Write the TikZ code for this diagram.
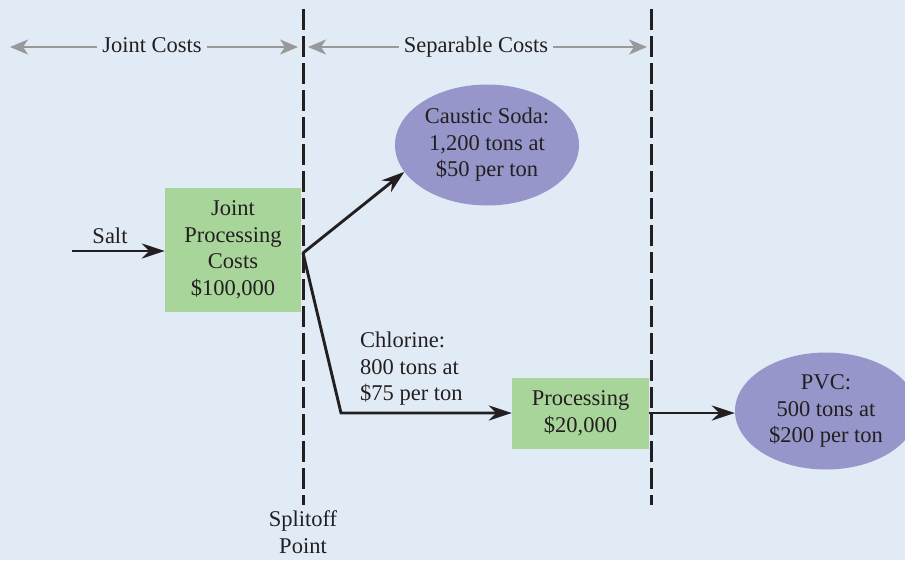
\documentclass[tikz,border=0pt]{standalone}
\usepackage{fontspec}
\setmainfont{Liberation Serif}
\usetikzlibrary{shapes.geometric,arrows.meta}
\definecolor{bg}{HTML}{E1EBF6}
\definecolor{boxgreen}{HTML}{A8D59A}
\definecolor{ellpurple}{HTML}{9696CA}
\definecolor{txt}{HTML}{231F20}
\definecolor{grayarrow}{HTML}{999999}
\begin{document}
\begin{tikzpicture}[x=1pt,y=-1pt, font=\fontsize{22.5}{26.5}\selectfont, text=txt,
  box/.style={fill=boxgreen, draw=none, inner sep=0pt, align=center},
  prod/.style={ellipse, fill=ellpurple, draw=none, inner sep=0pt, align=center},
  flow/.style={line width=2.9pt, draw=txt, -{Stealth[length=23pt,width=15pt]}},
  span/.style={line width=2.2pt, draw=grayarrow, -{Stealth[length=18pt,width=15pt,inset=5pt]}},
  divider/.style={line width=3pt, draw=txt, dash pattern=on 21pt off 6pt},
  lbl/.style={inner sep=0pt, align=center},
  hdr/.style={inner ysep=0pt, inner xsep=5pt, text height=15pt, text depth=4pt}]
\fill[bg] (0,0) rectangle (905,560);
\useasboundingbox (0,0) rectangle (905,560);

% boxes and ellipses
\node[box, minimum width=136, minimum height=124] (joint) at (233,250) {Joint\\Processing\\Costs\\\$100,000};
\node[box, minimum width=137, minimum height=71] (proc) at (580.5,413.5) {Processing\\\$20,000};
\node[prod, minimum width=184, minimum height=121] (caustic) at (487,145) {Caustic Soda:\\1,200 tons at\\\$50 per ton};
\node[prod, minimum width=182, minimum height=117] (pvc) at (826,411) {PVC:\\500 tons at\\\$200 per ton};

% dividers
\coordinate (d1top) at (303,9);
\coordinate (d1bot) at (303,505);
\coordinate (d2top) at (651,9);
\coordinate (d2bot) at (651,505);
\draw[divider] (d1top) -- (d1bot);
\draw[divider] (d2top) -- (d2bot);

% header spans
\node[hdr] (jc) at (152,47) {Joint Costs};
\node[hdr] (sc) at (476,47) {Separable Costs};
\coordinate (jcL) at (10,46);
\coordinate (jcR) at (298,46);
\coordinate (scL) at (308,46);
\coordinate (scR) at (647,46);
\draw[span] (jc.west) -- (jc.west -| jcL);
\draw[span] (jc.east) -- (jc.east -| jcR);
\draw[span] (sc.west) -- (sc.west -| scL);
\draw[span] (sc.east) -- (sc.east -| scR);

% salt input
\coordinate (saltstart) at (72,251);
\node[lbl, anchor=base] (salt) at (110,243) {Salt};
\draw[flow] (saltstart) -- (joint.west |- saltstart);

% split
\coordinate (split) at (303,253);
\coordinate (bend) at (341,413);
\draw[flow] (split) -- (caustic.198);
\draw[flow, line join=miter] (split) -- (bend) -- (proc.west |- bend);
\node[lbl, align=left, anchor=west] (chl) at (360,369) {Chlorine:\\800 tons at\\\$75 per ton};
\draw[flow] (proc.east |- bend) -- (pvc.west |- bend);

\node[lbl] (splitoff) at (303,532) {Splitoff\\Point};
\end{tikzpicture}
\end{document}
